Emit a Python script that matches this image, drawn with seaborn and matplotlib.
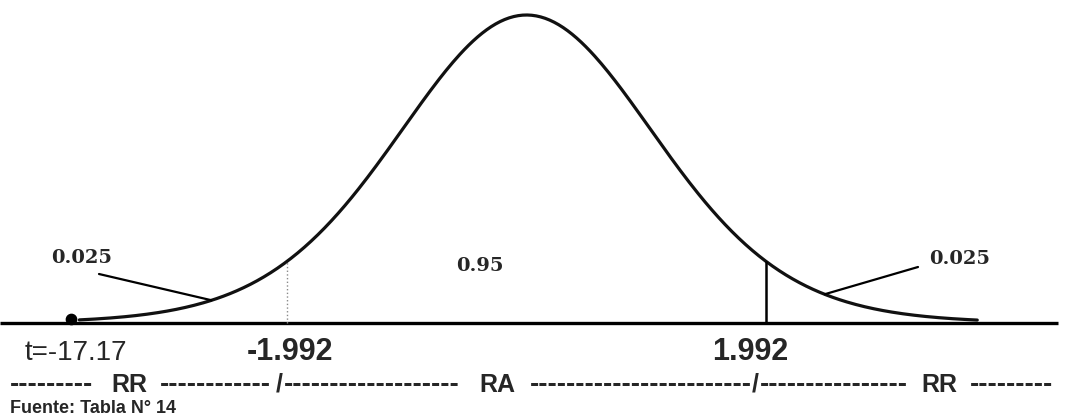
import numpy as np
import pandas as pd
import matplotlib
matplotlib.use("Agg")
import matplotlib.pyplot as plt
import seaborn as sns

sns.set_style("white")
plt.rcParams['font.family'] = ['Liberation Sans', 'DejaVu Sans']

# values shown in the figure
t_crit = 1.992
t_obs_label = "t=-17.17"
tail_area = "0.025"
center_area = "0.95"
# shape of the hand-drawn bell: a scaled t curve
bell_df = 15
bell_scale = 1.09
zone_labels = ["RR", "RA", "RR"]
source_text = "Fuente: Tabla N° 14"

W, H = 1079, 418
fig = plt.figure(figsize=(W / 100, H / 100), dpi=100)
ax = fig.add_axes([0, 0, 1, 1])

# pixel layout of the scan
x0_px, ppx = 526.5, 120.2
base_px, peak_px = 323, 15


def bell(t):
    z = np.asarray(t) / bell_scale
    return (1 + z ** 2 / bell_df) ** (-(bell_df + 1) / 2) * 0.39 / bell_scale


ppy = (base_px - peak_px) / bell(0)


def px(xp, yp):
    return (xp - x0_px) / ppx, (base_px - yp) / ppy


ax.set_xlim(-x0_px / ppx, (W - x0_px) / ppx)
ax.set_ylim(-(H - base_px) / ppy, base_px / ppy)
ax.axis("off")

t = np.linspace(-3.72, 3.75, 400)
curve = pd.DataFrame({"t": t, "density": bell(t)})
sns.lineplot(data=curve, x="t", y="density", color="#111111", lw=2.3, ax=ax)

# base line
xa, _ = px(0, 0)
xb, _ = px(1058, 0)
ax.hlines(0, xa, xb, color="black", lw=2.4)

# critical values
ax.vlines(-t_crit, 0, bell(-t_crit), color="#8a8a8a", lw=1.0, linestyles=":")
ax.vlines(t_crit, 0, bell(t_crit), color="black", lw=1.8)

# marker for the observed t (far off to the left)
mx, my = px(71, 319)
ax.scatter([mx], [my], s=55, color="black", zorder=5)

# leader lines to the tail areas
lx, ly = px(99, 274)
ax.plot([lx, -2.62], [ly, bell(-2.62)], color="black", lw=1.6)
rx, ry = px(918, 267)
ax.plot([2.48, rx], [bell(2.48), ry], color="black", lw=1.6)

serif = dict(family="DejaVu Serif", fontweight="bold", fontsize=14)
x, y = px(82, 258)
ax.text(x, y, tail_area, ha="center", va="center", **serif)
x, y = px(960, 259)
ax.text(x, y, tail_area, ha="center", va="center", **serif)
x, y = px(480, 266)
ax.text(x, y, center_area, ha="center", va="center", **serif)

# values under the axis
num_y = px(0, 360)[1]
x, _ = px(76, 0)
ax.text(x, num_y, t_obs_label, ha="center", va="baseline", fontsize=20)
x, _ = px(290, 0)
ax.text(x, num_y, f"-{t_crit:.3f}", ha="center", va="baseline",
        fontsize=22, fontweight="bold")
x, _ = px(750, 0)
ax.text(x, num_y, f"{t_crit:.3f}", ha="center", va="baseline",
        fontsize=22, fontweight="bold")

# region row
row_y = px(0, 392)[1]
pieces = [
    (10, "left", "-" * 9, 20),
    (129, "center", zone_labels[0], 18),
    (160, "left", "-" * 12, 20),
    (279, "center", "/", 18),
    (284, "left", "-" * 19, 20),
    (497, "center", zone_labels[1], 18),
    (530, "left", "-" * 24, 20),
    (755, "center", "/", 18),
    (760, "left", "-" * 16, 20),
    (939, "center", zone_labels[2], 18),
    (970, "left", "-" * 9, 20),
]
for xp, ha, s, fs in pieces:
    ax.text(px(xp, 0)[0], row_y, s, ha=ha, va="baseline", fontsize=fs,
            fontweight="bold")

x, y = px(10, 413)
ax.text(x, y, source_text, ha="left", va="baseline", fontsize=13, fontweight="bold")

fig.savefig("out.png", dpi=100)
